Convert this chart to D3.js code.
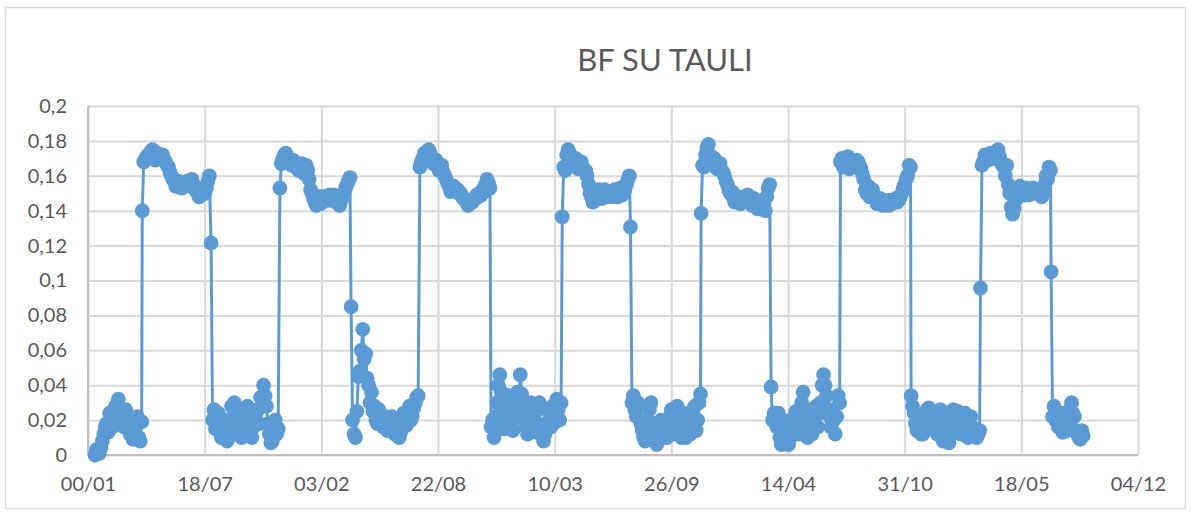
<!DOCTYPE html>
<html>
<head>
<meta charset="utf-8">
<script src="https://cdn.jsdelivr.net/npm/d3@7/dist/d3.min.js"></script>
<style>
  html, body { margin: 0; padding: 0; background: #ffffff; }
  svg { display: block; }
  text { font-family: Lato, "Open Sans", sans-serif; fill: #595959; }
</style>
</head>
<body>
<svg id="chart" width="1191" height="513"></svg>
<script>
// ---------- DATA ----------
const title = "BF SU TAULI";
const xTicks = [0, 200, 400, 600, 800, 1000, 1200, 1400, 1600, 1800];
const xTickLabels = ["00/01", "18/07", "03/02", "22/08", "10/03", "26/09", "14/04", "31/10", "18/05", "04/12"];
const yTicks = [0, 0.02, 0.04, 0.06, 0.08, 0.1, 0.12, 0.14, 0.16, 0.18, 0.2];
const yTickLabels = ["0", "0,02", "0,04", "0,06", "0,08", "0,1", "0,12", "0,14", "0,16", "0,18", "0,2"];

// sampling step (days) inside each phase and first day of each phase
const stepDays = 2.5;
const phaseStart = [12, 93, 211, 329, 451, 569, 691, 813, 930, 1051, 1171, 1290, 1411, 1530, 1651];

const low1  = [0.000,0.003,0.002,0.001,0.004,0.008,0.012,0.016,0.018,0.013,0.024,0.020,0.016,0.022,0.028,0.025,0.032,0.027,0.024,0.019,0.016,0.026,0.022,0.015,0.012,0.018,0.009,0.014,0.018,0.022,0.010,0.008,0.019];
const high1 = [0.140,0.168,0.169,0.171,0.172,0.170,0.174,0.175,0.171,0.169,0.173,0.170,0.170,0.172,0.172,0.169,0.168,0.166,0.165,0.162,0.160,0.158,0.157,0.154,0.155,0.157,0.154,0.153,0.156,0.154,0.155,0.157,0.156,0.154,0.158,0.155,0.154,0.151,0.152,0.148,0.149,0.152,0.151,0.150,0.153,0.157,0.160];
const low2  = [0.1215,0.020,0.026,0.015,0.018,0.024,0.022,0.010,0.012,0.020,0.016,0.008,0.010,0.018,0.028,0.022,0.030,0.012,0.014,0.024,0.020,0.010,0.012,0.018,0.024,0.028,0.016,0.012,0.010,0.016,0.020,0.024,0.026,0.018,0.033,0.028,0.040,0.034,0.028,0.018,0.012,0.007,0.008,0.014,0.020,0.012,0.015];
const high2 = [0.153,0.167,0.170,0.172,0.173,0.171,0.169,0.168,0.166,0.169,0.167,0.165,0.164,0.163,0.165,0.167,0.163,0.161,0.166,0.163,0.158,0.152,0.150,0.147,0.145,0.143,0.147,0.148,0.144,0.146,0.148,0.147,0.146,0.148,0.149,0.146,0.147,0.149,0.148,0.145,0.144,0.143,0.146,0.148,0.150,0.153,0.155,0.157,0.159];
const low3  = [0.085,0.020,0.012,0.010,0.025,0.045,0.048,0.060,0.072,0.055,0.058,0.044,0.040,0.030,0.036,0.025,0.028,0.020,0.018,0.026,0.024,0.018,0.016,0.022,0.020,0.014,0.014,0.020,0.022,0.013,0.012,0.016,0.018,0.010,0.013,0.020,0.024,0.019,0.017,0.024,0.028,0.020,0.022,0.027,0.030,0.033,0.034];
const high3 = [0.165,0.168,0.170,0.173,0.172,0.171,0.175,0.173,0.170,0.167,0.168,0.169,0.166,0.163,0.164,0.166,0.162,0.160,0.158,0.156,0.154,0.151,0.152,0.154,0.153,0.151,0.152,0.150,0.150,0.148,0.147,0.146,0.145,0.143,0.144,0.146,0.145,0.147,0.147,0.149,0.148,0.150,0.149,0.152,0.151,0.155,0.158,0.156,0.153];
const low4  = [0.016,0.020,0.010,0.022,0.030,0.040,0.046,0.036,0.028,0.015,0.020,0.026,0.034,0.024,0.018,0.014,0.028,0.032,0.036,0.022,0.046,0.035,0.026,0.020,0.016,0.012,0.024,0.030,0.014,0.018,0.020,0.013,0.026,0.030,0.012,0.016,0.008,0.012,0.018,0.026,0.024,0.016,0.028,0.022,0.019,0.032,0.026,0.020,0.030];
const high4 = [0.1365,0.165,0.163,0.172,0.175,0.173,0.170,0.167,0.168,0.170,0.166,0.164,0.167,0.168,0.165,0.163,0.163,0.160,0.155,0.150,0.148,0.145,0.146,0.149,0.150,0.152,0.149,0.147,0.150,0.152,0.151,0.148,0.149,0.151,0.150,0.148,0.152,0.150,0.148,0.151,0.153,0.149,0.150,0.152,0.155,0.158,0.160];
const low5  = [0.1307,0.030,0.034,0.026,0.022,0.030,0.028,0.018,0.014,0.010,0.008,0.014,0.020,0.026,0.030,0.018,0.012,0.008,0.006,0.010,0.014,0.020,0.010,0.016,0.018,0.010,0.012,0.022,0.026,0.012,0.016,0.024,0.028,0.020,0.014,0.010,0.024,0.018,0.010,0.016,0.022,0.012,0.016,0.026,0.028,0.014,0.020,0.030,0.035];
const high5 = [0.1385,0.166,0.165,0.172,0.176,0.178,0.172,0.169,0.167,0.170,0.165,0.164,0.166,0.167,0.163,0.162,0.160,0.157,0.155,0.152,0.150,0.151,0.148,0.145,0.146,0.148,0.145,0.144,0.146,0.147,0.148,0.146,0.149,0.147,0.145,0.143,0.147,0.145,0.143,0.141,0.141,0.143,0.144,0.142,0.140,0.148,0.153,0.155];
const low6  = [0.039,0.020,0.024,0.018,0.016,0.024,0.010,0.006,0.020,0.014,0.012,0.008,0.006,0.010,0.014,0.020,0.022,0.025,0.018,0.012,0.026,0.030,0.036,0.022,0.014,0.010,0.020,0.026,0.012,0.016,0.022,0.028,0.016,0.024,0.030,0.040,0.046,0.040,0.034,0.026,0.022,0.016,0.026,0.020,0.012,0.022,0.034,0.030];
const high6 = [0.168,0.170,0.165,0.167,0.168,0.171,0.164,0.166,0.167,0.165,0.166,0.169,0.168,0.166,0.164,0.161,0.158,0.152,0.150,0.154,0.148,0.150,0.152,0.149,0.147,0.144,0.145,0.147,0.144,0.143,0.146,0.145,0.144,0.143,0.146,0.144,0.145,0.146,0.147,0.145,0.146,0.148,0.150,0.153,0.155,0.158,0.160,0.166,0.165];
const low7  = [0.034,0.028,0.024,0.018,0.014,0.020,0.020,0.012,0.012,0.016,0.022,0.026,0.027,0.020,0.016,0.024,0.024,0.018,0.012,0.020,0.026,0.014,0.008,0.012,0.018,0.024,0.007,0.012,0.022,0.026,0.014,0.020,0.025,0.018,0.012,0.016,0.020,0.024,0.014,0.010,0.018,0.022,0.011,0.014,0.015,0.010,0.012,0.014];
const high7 = [0.0957,0.166,0.168,0.172,0.171,0.169,0.170,0.173,0.172,0.170,0.170,0.174,0.175,0.171,0.168,0.166,0.165,0.160,0.166,0.155,0.150,0.142,0.138,0.141,0.146,0.150,0.148,0.154,0.152,0.150,0.149,0.153,0.152,0.149,0.151,0.150,0.153,0.151,0.150,0.152,0.152,0.150,0.148,0.151,0.155,0.160,0.158,0.165,0.163];
const low8  = [0.105,0.022,0.028,0.020,0.022,0.016,0.018,0.024,0.013,0.016,0.020,0.014,0.016,0.026,0.030,0.024,0.022,0.014,0.012,0.010,0.009,0.014,0.011];

const phases = [low1, high1, low2, high2, low3, high3, low4, high4, low5, high5, low6, high6, low7, high7, low8];

// ---------- BUILD POINTS ----------
const points = [];
phases.forEach((vals, p) => {
  vals.forEach((v, i) => points.push({ day: phaseStart[p] + i * stepDays, v: v }));
});

// ---------- LAYOUT ----------
const W = 1191, H = 513;
const plot = { left: 88, right: 1138, top: 106, bottom: 455 };
const blue = "#5B9BD5";

const svg = d3.select("#chart");

// chart border
svg.append("rect")
  .attr("x", 5.5).attr("y", 7.5)
  .attr("width", W - 11).attr("height", H - 12)
  .attr("fill", "#ffffff")
  .attr("stroke", "#D9D9D9").attr("stroke-width", 1.5);

const x = d3.scaleLinear().domain([0, 1800]).range([plot.left, plot.right]);
const y = d3.scaleLinear().domain([0, 0.2]).range([plot.bottom, plot.top]);

// gridlines
const gy = svg.append("g").attr("transform", `translate(${plot.left},0)`)
  .call(d3.axisLeft(y).tickValues(yTicks).tickSize(-(plot.right - plot.left)).tickFormat(""));
gy.select(".domain").remove();
gy.selectAll(".tick line").attr("stroke", "#D9D9D9").attr("stroke-width", 2);

const gx = svg.append("g").attr("transform", `translate(0,${plot.bottom})`)
  .call(d3.axisBottom(x).tickValues(xTicks).tickSize(-(plot.bottom - plot.top)).tickFormat(""));
gx.select(".domain").remove();
gx.selectAll(".tick line").attr("stroke", "#D9D9D9").attr("stroke-width", 2);

// axis lines
svg.append("line").attr("x1", plot.left).attr("x2", plot.left)
  .attr("y1", plot.top).attr("y2", plot.bottom)
  .attr("stroke", "#BFBFBF").attr("stroke-width", 2);
svg.append("line").attr("x1", plot.left).attr("x2", plot.right)
  .attr("y1", plot.bottom).attr("y2", plot.bottom)
  .attr("stroke", "#BFBFBF").attr("stroke-width", 2);

// axis labels
const yAxis = svg.append("g").attr("transform", `translate(${plot.left},0)`)
  .call(d3.axisLeft(y).tickValues(yTicks).tickSize(0).tickPadding(21)
    .tickFormat((d, i) => yTickLabels[i]));
yAxis.select(".domain").remove();
yAxis.selectAll("text").attr("font-size", 20).attr("font-family", "Lato, sans-serif").attr("fill", "#595959");

const xAxis = svg.append("g").attr("transform", `translate(0,${plot.bottom})`)
  .call(d3.axisBottom(x).tickValues(xTicks).tickSize(0).tickPadding(22)
    .tickFormat((d, i) => xTickLabels[i]));
xAxis.select(".domain").remove();
xAxis.selectAll("text").attr("font-size", 20).attr("font-family", "Lato, sans-serif").attr("fill", "#595959");

// title
svg.append("text")
  .attr("x", 665).attr("y", 71)
  .attr("text-anchor", "middle")
  .attr("font-size", 31)
  .text(title);

// series line
const line = d3.line().x(d => x(d.day)).y(d => y(d.v));
svg.append("path").datum(points)
  .attr("d", line)
  .attr("fill", "none")
  .attr("stroke", blue)
  .attr("stroke-width", 3)
  .attr("stroke-linejoin", "round");

// markers
svg.append("g").selectAll("circle").data(points).join("circle")
  .attr("cx", d => x(d.day))
  .attr("cy", d => y(d.v))
  .attr("r", 7.4)
  .attr("fill", blue);
</script>
</body>
</html>
